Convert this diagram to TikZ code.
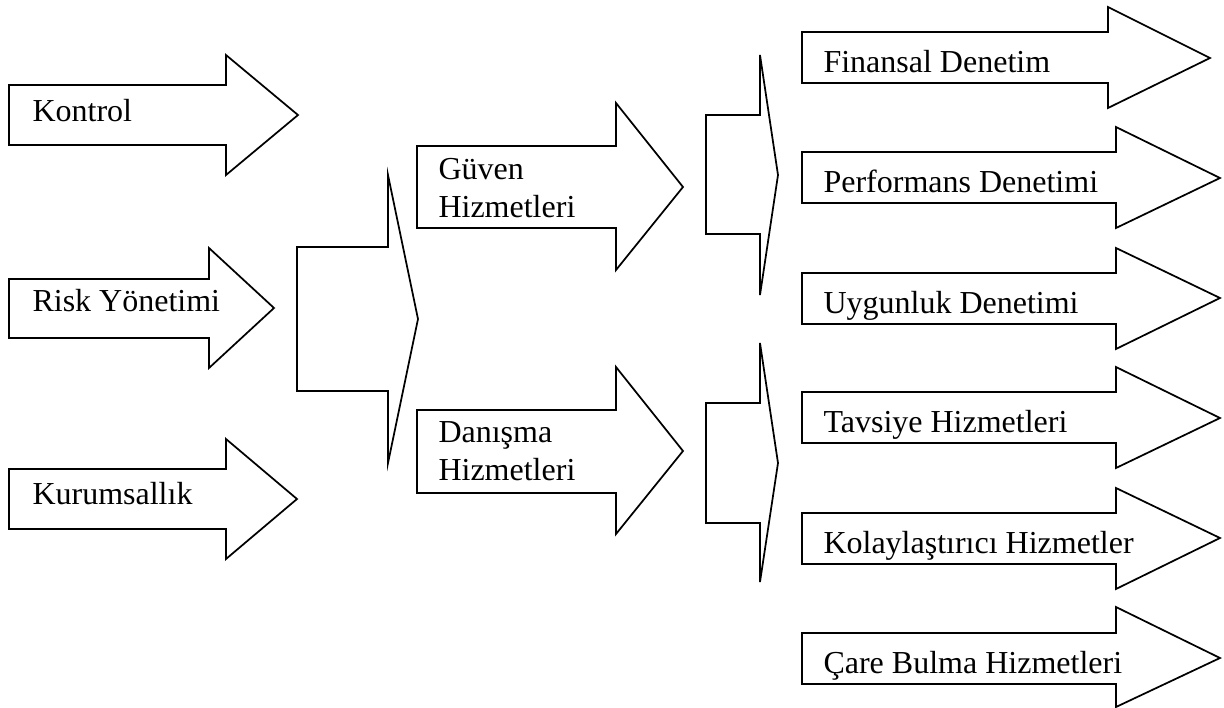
\documentclass[tikz,border=0pt]{standalone}
\usepackage{fontspec}
\setmainfont{Liberation Serif}
\usepackage{tikz}
\usetikzlibrary{positioning}

\begin{document}
\begin{tikzpicture}[x=0.375pt, y=-0.375pt,
	blok/.style={draw, line width=0.65pt, line join=miter, fill=white},
	yazi/.style={inner sep=0pt, anchor=base west, align=left,
		font=\fontsize{12}{13.9}\selectfont}]
	\useasboundingbox (0,0) rectangle (1224,708);
	% sol
	\draw [blok] (9,85)--(226,85)--(226,55)--(298,115)--(226,175)--(226,145)--(9,145)--cycle;
	\node [yazi] (kontrol) at (32,121) {Kontrol};
	\draw [blok] (9,279)--(209,279)--(209,248)--(274,308)--(209,368)--(209,338)--(9,338)--cycle;
	\node [yazi] (risk) at (32,311) {Risk Yönetimi};
	\draw [blok] (9,469)--(226,469)--(226,439)--(297,499)--(226,559)--(226,529)--(9,529)--cycle;
	\node [yazi] (kurum) at (32,504) {Kurumsallık};
	\draw [blok] (388,175)--(388,247)--(297,247)--(297,391)--(388,391)--(388,463)--(418,319)--cycle;
	% orta
	\draw [blok] (417,146)--(616,146)--(616,103)--(683,187)--(616,270)--(616,228)--(417,228)--cycle;
	\node [yazi] (guven) at (438,217) {Güven\\Hizmetleri};
	\draw [blok] (417,410)--(616,410)--(616,367)--(683,451)--(616,534)--(616,493)--(417,493)--cycle;
	\node [yazi] (danisma) at (438,480) {Danışma\\Hizmetleri};
	\draw [blok] (760,55)--(760,115)--(706,115)--(706,234)--(760,234)--(760,295)--(778,175)--cycle;
	\draw [blok] (760,343)--(760,403)--(706,403)--(706,523)--(760,523)--(760,582)--(778,463)--cycle;
	% sag
	\draw [blok] (802,32)--(1108,32)--(1108,7)--(1210,58)--(1108,108)--(1108,83)--(802,83)--cycle;
	\node [yazi] (finansal) at (823,72) {Finansal Denetim};
	\draw [blok] (802,152)--(1116,152)--(1116,127)--(1220,178)--(1116,228)--(1116,203)--(802,203)--cycle;
	\node [yazi] (performans) at (823,192) {Performans Denetimi};
	\draw [blok] (802,273)--(1116,273)--(1116,248)--(1220,298)--(1116,349)--(1116,324)--(802,324)--cycle;
	\node [yazi] (uygunluk) at (823,313) {Uygunluk Denetimi};
	\draw [blok] (802,392)--(1116,392)--(1116,367)--(1220,418)--(1116,468)--(1116,443)--(802,443)--cycle;
	\node [yazi] (tavsiye) at (823,432) {Tavsiye Hizmetleri};
	\draw [blok] (802,513)--(1116,513)--(1116,488)--(1220,538)--(1116,589)--(1116,564)--(802,564)--cycle;
	\node [yazi] (kolay) at (823,553) {Kolaylaştırıcı Hizmetler};
	\draw [blok] (802,633)--(1116,633)--(1116,607)--(1220,658)--(1116,707)--(1116,684)--(802,684)--cycle;
	\node [yazi] (care) at (823,673) {Çare Bulma Hizmetleri};
\end{tikzpicture}
\end{document}
